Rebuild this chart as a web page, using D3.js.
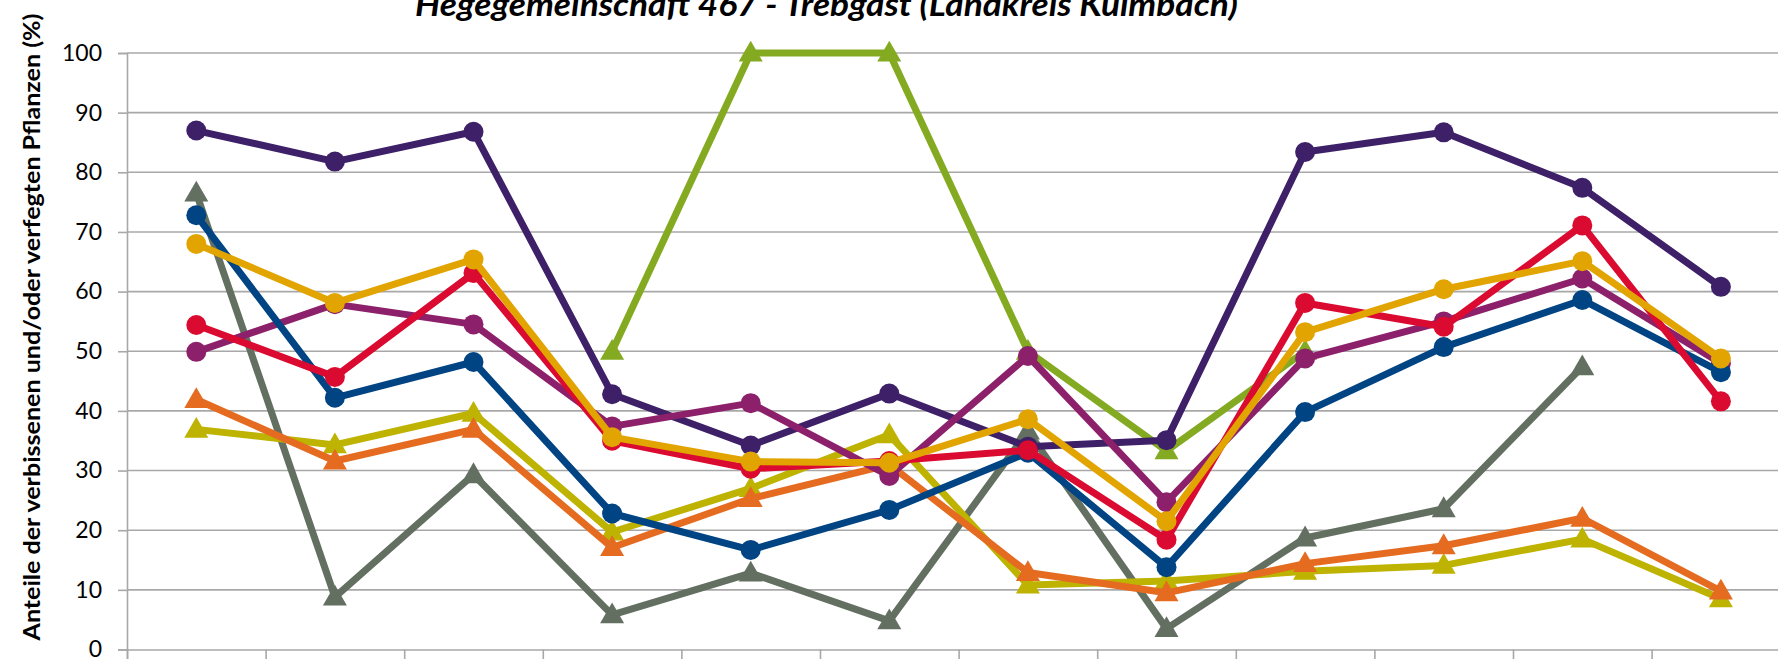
<!DOCTYPE html>
<html>
<head>
<meta charset="utf-8">
<script src="https://cdn.jsdelivr.net/npm/d3@7"></script>
<style>
  html, body { margin: 0; padding: 0; background: #fff; }
  svg { display: block; }
</style>
</head>
<body>
<svg id="chart" width="1778" height="659"></svg>
<script>
// ---- Data ----
const categories = ["1","2","3","4","5","6","7","8","9","10","11","12"];
const yTicks = [0,10,20,30,40,50,60,70,80,90,100];
const titleText = "Hegegemeinschaft 467 - Trebgast (Landkreis Kulmbach)";
const yLabelText = "Anteile der verbissenen und/oder verfegten Pflanzen (%)";

const seriesGreen   = [null, null, null, 50, 100, 100, 50, 33.3, 50, null, null, null];
const seriesGrey    = [76.5, 8.8, 29.3, 5.8, 12.8, 4.8, 36.6, 3.5, 18.7, 23.6, 47.4, null];
const seriesOlive   = [36.9, 34.3, 39.6, 19.7, 27.0, 36.0, 10.8, 11.5, 13.1, 14.1, 18.5, 8.5];
const seriesOrange  = [41.9, 31.6, 36.9, 17.1, 25.3, 31.0, 12.9, 9.5, 14.4, 17.4, 22.0, 9.8];
const seriesPurple  = [87.0, 81.8, 86.8, 42.8, 34.2, 42.9, 34.0, 35.1, 83.4, 86.7, 77.4, 60.8];
const seriesMagenta = [49.9, 57.9, 54.5, 37.4, 41.3, 29.1, 49.2, 24.7, 48.8, 55.0, 62.2, 48.0];
const seriesBlue    = [72.8, 42.2, 48.2, 22.8, 16.7, 23.4, 33.0, 13.8, 39.8, 50.7, 58.6, 46.5];
const seriesRed     = [54.4, 45.7, 63.1, 35.0, 30.3, 31.6, 33.4, 18.4, 58.1, 54.1, 71.1, 41.6];
const seriesGold    = [68.0, 58.1, 65.4, 35.6, 31.5, 31.3, 38.6, 21.5, 53.2, 60.4, 65.1, 48.8];

const series = [
  { values: seriesGreen,   color: "#84AA22", marker: "triangle" },
  { values: seriesGrey,    color: "#637061", marker: "triangle" },
  { values: seriesOlive,   color: "#BDB300", marker: "triangle" },
  { values: seriesOrange,  color: "#E46B20", marker: "triangle" },
  { values: seriesPurple,  color: "#3E2068", marker: "circle" },
  { values: seriesMagenta, color: "#8D206A", marker: "circle" },
  { values: seriesBlue,    color: "#004483", marker: "circle" },
  { values: seriesRed,     color: "#DA0A30", marker: "circle" },
  { values: seriesGold,    color: "#E2A400", marker: "circle" }
];

// ---- Layout ----
const svg = d3.select("#chart");
const plotLeft = 127, bandW = 138.6;
const plotRight = plotLeft + bandW * categories.length;
const plotTop = 53, plotBottom = 649.5;

const x = d3.scaleBand().domain(categories).range([plotLeft, plotRight]).padding(0);
const xb = d3.scaleLinear().domain([0, categories.length]).range([plotLeft, plotRight]);
const y = d3.scaleLinear().domain([0, 100]).range([plotBottom, plotTop]);
const cx = c => x(c) + x.bandwidth() / 2;

const gridColor = "#A8A8A8";

// gridlines
svg.append("g").selectAll("line").data(yTicks.filter(t => t > 0)).join("line")
  .attr("x1", plotLeft).attr("x2", plotRight)
  .attr("y1", d => y(d)).attr("y2", d => y(d))
  .attr("stroke", gridColor).attr("stroke-width", 1.6);

// y axis
const yAxis = svg.append("g").attr("transform", `translate(${plotLeft},0)`)
  .call(d3.axisLeft(y).tickValues(yTicks).tickSize(9).tickPadding(16).tickFormat(d3.format("d")));
yAxis.select(".domain").attr("stroke", gridColor).attr("stroke-width", 1.6);
yAxis.selectAll(".tick line").attr("stroke", gridColor).attr("stroke-width", 1.6);
yAxis.selectAll(".tick text")
  .attr("font-family", "Lato, 'Open Sans', sans-serif")
  .attr("font-size", 23).attr("fill", "#000");

// x axis (category boundaries)
const xAxis = svg.append("g").attr("transform", `translate(0,${plotBottom})`)
  .call(d3.axisBottom(xb).tickValues(d3.range(0, categories.length + 1)).tickSize(12).tickFormat(""));
xAxis.select(".domain").attr("stroke", gridColor).attr("stroke-width", 1.6);
xAxis.selectAll(".tick line").attr("stroke", gridColor).attr("stroke-width", 1.6);

// lines and markers
const line = d3.line()
  .defined(d => d.v != null)
  .x(d => cx(d.c))
  .y(d => y(d.v));

const tri = d3.symbol().type(d3.symbolTriangle).size(250);

series.forEach(s => {
  const pts = categories.map((c, i) => ({ c, v: s.values[i] }));
  const g = svg.append("g");
  g.append("path").datum(pts)
    .attr("d", line)
    .attr("fill", "none").attr("stroke", s.color)
    .attr("stroke-width", 7).attr("stroke-linejoin", "round").attr("stroke-linecap", "round");
  const valid = pts.filter(d => d.v != null);
  if (s.marker === "circle") {
    g.selectAll("circle").data(valid).join("circle")
      .attr("cx", d => cx(d.c)).attr("cy", d => y(d.v)).attr("r", 10)
      .attr("fill", s.color);
  } else {
    g.selectAll("path.m").data(valid).join("path").attr("class", "m")
      .attr("d", tri)
      .attr("transform", d => `translate(${cx(d.c)},${y(d.v) + 1.5})`)
      .attr("fill", s.color);
  }
});

// title
svg.append("text")
  .attr("x", 415).attr("y", 16)
  .attr("font-family", "Lato, 'Open Sans', sans-serif")
  .attr("font-weight", "bold").attr("font-style", "italic")
  .attr("font-size", 32)
  .attr("textLength", 823).attr("lengthAdjust", "spacingAndGlyphs")
  .attr("fill", "#000")
  .text(titleText);

// y label
svg.append("text")
  .attr("transform", `translate(40,327) rotate(-90)`)
  .attr("text-anchor", "middle")
  .attr("font-family", "Lato, 'Open Sans', sans-serif")
  .attr("font-weight", "bold")
  .attr("font-size", 23)
  .attr("textLength", 627).attr("lengthAdjust", "spacingAndGlyphs")
  .attr("fill", "#000")
  .text(yLabelText);
</script>
</body>
</html>
